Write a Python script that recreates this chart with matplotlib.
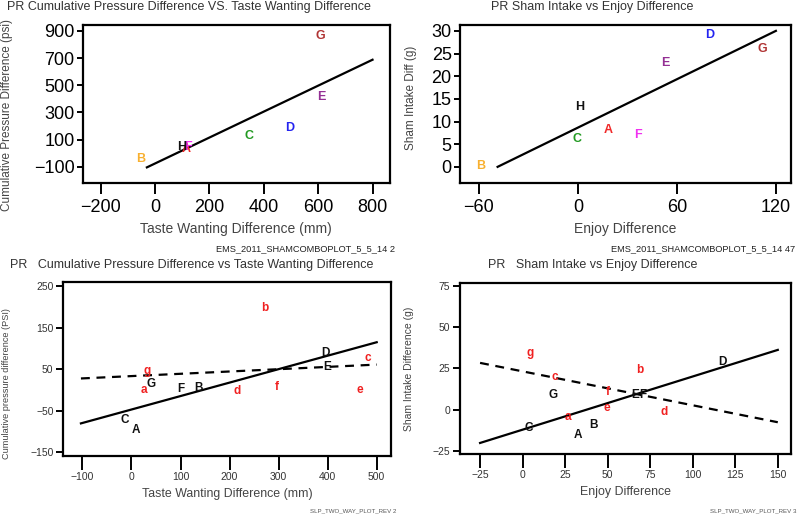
import matplotlib.pyplot as plt

plt.rcParams["font.family"] = ["Liberation Sans", "DejaVu Sans"]

# Panel 1: PR cumulative pressure vs taste wanting (top left)
p1_labels = ["A", "B", "C", "D", "E", "F", "G", "H"]
p1_x = [115, -53, 344, 494, 610, 122, 607, 98]
p1_y = [30, -44, 128, 182, 410, 42, 863, 44]
p1_line_x = [-30, 800]
p1_line_y = [-105, 688]

# Panel 2: PR sham intake vs enjoy (top right)
p2_labels = ["A", "B", "C", "D", "E", "F", "G", "H"]
p2_x = [18.6, -58.8, -0.4, 79.9, 53, 36.4, 111.6, 0.8]
p2_y = [8.1, 0.1, 6.1, 29.1, 23.0, 7.0, 25.9, 13.1]
p2_line_x = [-48.7, 120]
p2_line_y = [0, 30]

point_colors = {
    "A": "#f02828", "B": "#f8b030", "C": "#229a22", "D": "#2424f0",
    "E": "#942f94", "F": "#f030f0", "G": "#b03434", "H": "#111111",
}

# Panel 3: cumulative pressure vs taste wanting (bottom left)
p3_upper = ["A", "B", "C", "D", "E", "F", "G"]
p3_upper_x = [10, 136, -14, 396, 398, 100, 39]
p3_upper_y = [-97, 5, -73, 90, 55, 3, 15]
p3_lower = ["a", "b", "c", "d", "e", "f", "g"]
p3_lower_x = [26, 272, 482, 216, 466, 296, 32]
p3_lower_y = [-1, 197, 77, -3, -1, 7, 45]
p3_solid_x = [-103, 500]
p3_solid_y = [-81, 115]
p3_dash_x = [-103, 500]
p3_dash_y = [27.5, 61]

# Panel 4: sham intake vs enjoy (bottom right)
p4_upper = ["A", "B", "C", "D", "E", "F", "G"]
p4_upper_x = [32.5, 41.7, 3.5, 117.7, 66.2, 70.7, 17.8]
p4_upper_y = [-15.2, -9.1, -11.2, 28.9, 8.7, 8.7, 8.7]
p4_lower = ["a", "b", "c", "d", "e", "f", "g"]
p4_lower_x = [26.4, 68.8, 19.2, 82.9, 49.6, 50, 4.5]
p4_lower_y = [-4.5, 23.8, 19.7, -1.4, 1.0, 10.8, 34.5]
p4_solid_x = [-25, 150]
p4_solid_y = [-20.3, 36.3]
p4_dash_x = [-25, 150]
p4_dash_y = [28.4, -7.7]

LABEL_COLOR = "#444444"


def style_axes(ax, xlen, ylen, tick_size, xpad):
    for s in ax.spines.values():
        s.set_linewidth(1.6)
    ax.tick_params(axis="x", direction="out", length=xlen, width=1.4,
                   labelsize=tick_size, pad=xpad)
    ax.tick_params(axis="y", direction="out", length=ylen, width=1.4,
                   labelsize=tick_size, pad=2)


fig = plt.figure(figsize=(8, 5.16), dpi=100)

# top left
ax1 = fig.add_axes([0.1034, 0.6459, 0.384, 0.3057])
ax1.plot(p1_line_x, p1_line_y, color="black", lw=1.6)
for lab, x, y in zip(p1_labels, p1_x, p1_y):
    ax1.text(x, y, lab, color=point_colors[lab], fontsize=9, fontweight="bold",
             ha="center", va="center")
ax1.set_xlim(-266, 864)
ax1.set_ylim(-218, 944)
ax1.set_xticks([-200, 0, 200, 400, 600, 800])
ax1.set_yticks([-100, 100, 300, 500, 700, 900])
style_axes(ax1, 8, 4, 13, 4)
ax1.set_xlabel("Taste Wanting Difference (mm)", fontsize=10, color=LABEL_COLOR, labelpad=4)
ax1.set_ylabel("Cumulative Pressure Difference (psi)", fontsize=8.5, color=LABEL_COLOR)
ax1.yaxis.set_label_coords(-0.226, 0.43)

# top right
ax2 = fig.add_axes([0.575, 0.6459, 0.4134, 0.3057])
ax2.plot(p2_line_x, p2_line_y, color="black", lw=1.6)
for lab, x, y in zip(p2_labels, p2_x, p2_y):
    ax2.text(x, y, lab, color=point_colors[lab], fontsize=9, fontweight="bold",
             ha="center", va="center")
ax2.set_xlim(-71.5, 129)
ax2.set_ylim(-3.5, 31.3)
ax2.set_xticks([-60, 0, 60, 120])
ax2.set_yticks([0, 5, 10, 15, 20, 25, 30])
style_axes(ax2, 8, 4, 13, 4)
ax2.set_xlabel("Enjoy Difference", fontsize=10, color=LABEL_COLOR, labelpad=4)
ax2.set_ylabel("Sham Intake Diff (g)", fontsize=8.5, color=LABEL_COLOR)
ax2.yaxis.set_label_coords(-0.13, 0.537)

# bottom left
ax3 = fig.add_axes([0.0791, 0.1157, 0.4093, 0.3378])
ax3.plot(p3_solid_x, p3_solid_y, color="black", lw=1.6)
ax3.plot(p3_dash_x, p3_dash_y, color="black", lw=1.6, ls=(0, (4, 3)))
for lab, x, y in zip(p3_upper, p3_upper_x, p3_upper_y):
    ax3.text(x, y, lab, color="#111111", fontsize=8.5, fontweight="bold",
             ha="center", va="center")
for lab, x, y in zip(p3_lower, p3_lower_x, p3_lower_y):
    ax3.text(x, y, lab, color="#f02020", fontsize=8.5, fontweight="bold",
             ha="center", va="center")
ax3.set_xlim(-139, 528.6)
ax3.set_ylim(-160.5, 260.5)
ax3.set_xticks([-100, 0, 100, 200, 300, 400, 500])
ax3.set_yticks([-150, -50, 50, 150, 250])
style_axes(ax3, 10, 5, 7.5, 1.5)
ax3.set_xlabel("Taste Wanting Difference (mm)", fontsize=8.9, color=LABEL_COLOR, labelpad=4)
ax3.set_ylabel("Cumulative pressure difference (PSI)", fontsize=6.6, color=LABEL_COLOR)
ax3.yaxis.set_label_coords(-0.16, 0.415)

# bottom right
ax4 = fig.add_axes([0.575, 0.1202, 0.4134, 0.3314])
ax4.plot(p4_solid_x, p4_solid_y, color="black", lw=1.6)
ax4.plot(p4_dash_x, p4_dash_y, color="black", lw=1.6, ls=(0, (4, 3)))
for lab, x, y in zip(p4_upper, p4_upper_x, p4_upper_y):
    ax4.text(x, y, lab, color="#111111", fontsize=8.5, fontweight="bold",
             ha="center", va="center")
for lab, x, y in zip(p4_lower, p4_lower_x, p4_lower_y):
    ax4.text(x, y, lab, color="#f02020", fontsize=8.5, fontweight="bold",
             ha="center", va="center")
ax4.set_xlim(-36.8, 157.6)
ax4.set_ylim(-27, 77)
ax4.set_xticks([-25, 0, 25, 50, 75, 100, 125, 150])
ax4.set_yticks([-25, 0, 25, 50, 75])
style_axes(ax4, 10, 5, 7.5, 1.5)
ax4.set_xlabel("Enjoy Difference", fontsize=8.9, color=LABEL_COLOR, labelpad=4)
ax4.set_ylabel("Sham Intake Difference (g)", fontsize=7.5, color=LABEL_COLOR)
ax4.yaxis.set_label_coords(-0.1376, 0.5)

for a in (ax3, ax4):
    for t in a.get_xticklabels() + a.get_yticklabels():
        t.set_color("#333333")

# titles
fig.text(189 / 800, 1 - 7 / 516, "PR Cumulative Pressure Difference VS. Taste Wanting Difference",
         fontsize=9, color="#333333", ha="center", va="center")
fig.text(592 / 800, 1 - 7 / 516, "PR Sham Intake vs Enjoy Difference",
         fontsize=9, color="#333333", ha="center", va="center")
fig.text(192 / 800, 1 - 265 / 516, "PR   Cumulative Pressure Difference vs Taste Wanting Difference",
         fontsize=9, color="#333333", ha="center", va="center")
fig.text(593 / 800, 1 - 265 / 516, "PR   Sham Intake vs Enjoy Difference",
         fontsize=9, color="#333333", ha="center", va="center")

# footnotes
fig.text(395 / 800, 1 - 249 / 516, "EMS_2011_SHAMCOMBOPLOT_5_5_14 2",
         fontsize=6.7, color="#222222", ha="right", va="center")
fig.text(795 / 800, 1 - 249 / 516, "EMS_2011_SHAMCOMBOPLOT_5_5_14 47",
         fontsize=6.7, color="#222222", ha="right", va="center")
fig.text(396 / 800, 1 - 511 / 516, "SLP_TWO_WAY_PLOT_REV 2",
         fontsize=4.4, color="#555555", ha="right", va="center")
fig.text(796 / 800, 1 - 511 / 516, "SLP_TWO_WAY_PLOT_REV 3",
         fontsize=4.4, color="#555555", ha="right", va="center")

fig.savefig("out.png", dpi=100)
